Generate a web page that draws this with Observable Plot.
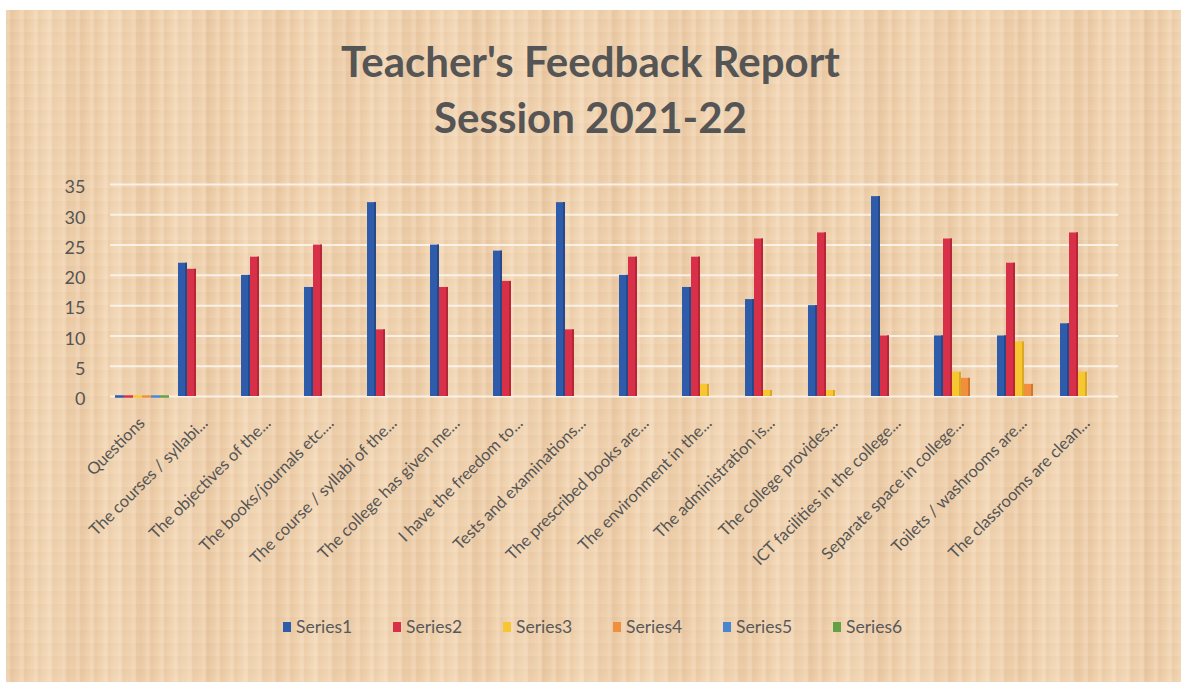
<!DOCTYPE html>
<html>
<head>
<meta charset="utf-8">
<script src="https://cdn.jsdelivr.net/npm/d3@7"></script>
<script src="https://cdn.jsdelivr.net/npm/@observablehq/plot@0.6"></script>
<style>
  html, body { margin: 0; padding: 0; background: #ffffff; }
  #page {
    position: relative; width: 1181px; height: 682px; overflow: hidden;
    background: #ffffff;
    font-family: Lato, "Open Sans", sans-serif;
  }
  #paper {
    position: absolute; left: 6px; top: 10px; right: 0; bottom: 0;
    background-color: #eecfaa;
    background-image:
      repeating-linear-gradient(90deg, rgba(255,240,220,0.25) 0px, rgba(255,240,220,0.25) 3px, rgba(200,150,110,0.08) 5px, rgba(255,240,220,0.0) 9px, rgba(255,235,210,0.18) 14px),
      repeating-linear-gradient(90deg, rgba(190,140,100,0.10) 0px, rgba(190,140,100,0.0) 23px, rgba(255,245,230,0.15) 41px, rgba(190,140,100,0.06) 67px),
      repeating-linear-gradient(0deg, rgba(255,240,225,0.10) 0px, rgba(255,240,225,0.0) 7px, rgba(200,160,120,0.07) 13px);
  }
  .title {
    position: absolute; left: 0; width: 1181px; text-align: center;
    font-weight: 700; color: #555555; font-size: 42px; line-height: 1;
  }
  #legend {
    position: absolute; top: 616px; left: 283px; display: flex; gap: 0;
    font-size: 17.5px; color: #595959;
  }
  #legend .item { display: flex; align-items: center; width: 110px; }
  #legend .sw { width: 8px; height: 10px; margin-right: 5px; }
  #chart { position: absolute; left: 0; top: 0; }
</style>
</head>
<body>
<div id="page">
  <div id="paper"></div>
  <div class="title" style="top:40px">Teacher's Feedback Report</div>
  <div class="title" style="top:96px">Session 2021-22</div>
  <div id="chart"></div>
  <div id="legend"></div>
</div>
<script>
const categories = [
  "Questions",
  "The courses / syllabi...",
  "The objectives of the...",
  "The books/journals etc....",
  "The course / syllabi of the...",
  "The college has given me...",
  "I have the freedom to...",
  "Tests and examinations...",
  "The prescribed books are...",
  "The environment in the...",
  "The administration is...",
  "The college provides...",
  "ICT facilities in the college...",
  "Separate space in college...",
  "Toilets / washrooms are...",
  "The classrooms are clean..."
];
const seriesNames = ["Series1", "Series2", "Series3", "Series4", "Series5", "Series6"];
const series1 = [0, 22, 20, 18, 32, 25, 24, 32, 20, 18, 16, 15, 33, 10, 10, 12];
const series2 = [0, 21, 23, 25, 11, 18, 19, 11, 23, 23, 26, 27, 10, 26, 22, 27];
const series3 = [0, null, null, null, null, null, null, null, null, 2, 1, 1, null, 4, 9, 4];
const series4 = [0, null, null, null, null, null, null, null, null, null, null, null, null, 3, 2, null];
const series5 = [0, null, null, null, null, null, null, null, null, null, null, null, null, null, null, null];
const series6 = [0, null, null, null, null, null, null, null, null, null, null, null, null, null, null, null];
const yTicks = [0, 5, 10, 15, 20, 25, 30, 35];
const colors = ["#2f5bab", "#d9304a", "#f7c631", "#f0903e", "#4a86d0", "#64a044"];
const sideColors = ["#26498a", "#b52639", "#d9a922", "#cf7530", "#3a6cae", "#4f8536"];

const allSeries = [series1, series2, series3, series4, series5, series6];
const data = [];
categories.forEach((c, i) => {
  allSeries.forEach((s, j) => {
    if (s[i] !== null && s[i] !== undefined) data.push({category: c, series: seriesNames[j], value: s[i]});
  });
});
const positive = data.filter(d => d.value > 0);
const zeros = data.filter(d => d.value === 0);

const chart = Plot.plot({
  width: 1181,
  height: 600,
  marginLeft: 110,
  marginRight: 63,
  marginTop: 184,
  marginBottom: 204,
  style: {background: "transparent", fontFamily: "Lato, 'Open Sans', sans-serif"},
  fx: {domain: categories, paddingInner: 0, paddingOuter: 0, label: null},
  x: {domain: seriesNames, paddingInner: 0, paddingOuter: 0.35, axis: null},
  y: {domain: [0, 35], label: null},
  color: {domain: seriesNames, range: colors},
  marks: [
    Plot.gridY(yTicks, {stroke: "#fbf4ec", strokeOpacity: 0.9, strokeWidth: 2}),
    Plot.axisY(yTicks, {tickSize: 0, tickPadding: 25, fontSize: 18, fill: "#555555", dy: 3}),
    Plot.axisFx({anchor: "bottom", tickSize: 0, tickPadding: 24, tickRotate: -45, fontSize: 16.5, fill: "#555555", label: null}),
    Plot.barY(positive, {fx: "category", x: "series", y: "value", fill: "series", insetLeft: 0, insetRight: 0}),
    Plot.barY(positive, {fx: "category", x: "series", y: "value", fill: d => sideColors[seriesNames.indexOf(d.series)], insetLeft: 7, insetRight: 0}),
    Plot.tickY(zeros, {fx: "category", x: "series", y: "value", stroke: "series", strokeWidth: 2.5})
  ]
});
document.getElementById("chart").appendChild(chart);

const legend = document.getElementById("legend");
seriesNames.forEach((s, i) => {
  const item = document.createElement("div");
  item.className = "item";
  const sw = document.createElement("div");
  sw.className = "sw";
  sw.style.background = colors[i];
  const tx = document.createElement("span");
  tx.textContent = s;
  item.appendChild(sw);
  item.appendChild(tx);
  legend.appendChild(item);
});
</script>
</body>
</html>
